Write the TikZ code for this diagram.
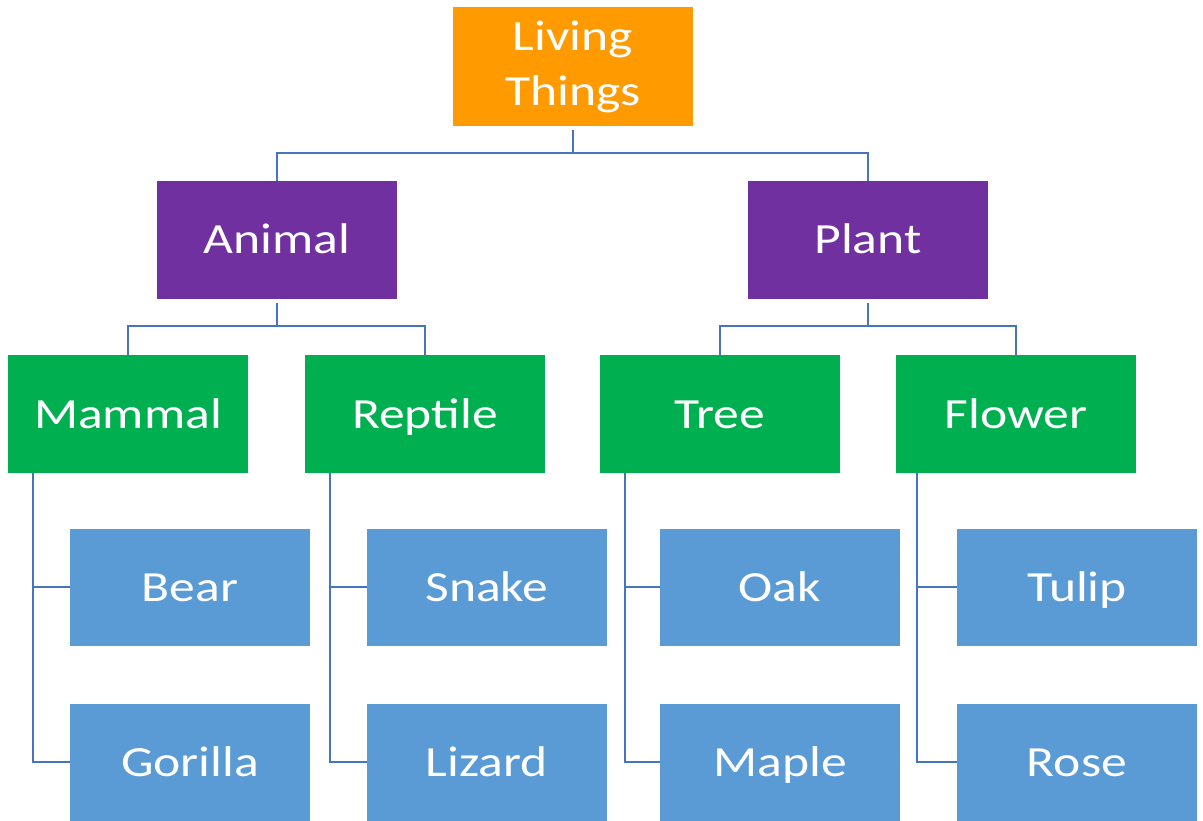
\documentclass[tikz,border=0pt]{standalone}
\usepackage{fontspec}
\setmainfont{Carlito}[FakeStretch=1.2]
\usetikzlibrary{positioning}
\definecolor{rootc}{HTML}{FF9A00}
\definecolor{kingc}{HTML}{7030A0}
\definecolor{groupc}{HTML}{00B050}
\definecolor{leafc}{HTML}{5B9BD5}
\definecolor{linkc}{HTML}{4775BD}
\tikzset{
  box/.style={rectangle, minimum width=240pt, minimum height=118pt, inner sep=0pt,
    text=white, align=center, font=\fontsize{43}{55}\selectfont},
  onerow/.style={box, text height=28pt, text depth=0pt},
  rootbox/.style={box, fill=rootc, minimum height=119pt},
  kingbox/.style={onerow, fill=kingc},
  groupbox/.style={onerow, fill=groupc},
  leafbox/.style={onerow, fill=leafc, minimum height=117pt},
  link/.style={draw=linkc, line width=2.5pt}
}
\begin{document}
\begin{tikzpicture}[x=1pt,y=1pt]
  \fill[white] (0,0) rectangle (1203,-821);
  \useasboundingbox (0,0) rectangle (1203,-821);

  % root
  \node[rootbox] (lt) at (573,-66.5) {Living\\Things};

  % kingdoms
  \node[kingbox] (animal) at (277,-240) {Animal};
  \node[kingbox] (plant)  at (868,-240) {Plant};

  % groups
  \node[groupbox] (mammal)  at (128,-414) {Mammal};
  \node[groupbox] (reptile) at (425,-414) {Reptile};
  \node[groupbox] (tree)    at (720,-414) {Tree};
  \node[groupbox] (flower)  at (1016,-414) {Flower};

  % species
  \node[leafbox] (bear)    at (190,-587) {Bear};
  \node[leafbox] (gorilla) at (190,-762) {Gorilla};
  \node[leafbox] (snake)   at (487,-587) {Snake};
  \node[leafbox] (lizard)  at (487,-762) {Lizard};
  \node[leafbox] (oak)     at (780,-587) {Oak};
  \node[leafbox] (maple)   at (780,-762) {Maple};
  \node[leafbox] (tulip)   at (1077,-587) {Tulip};
  \node[leafbox] (rose)    at (1077,-762) {Rose};

  % tree connectors
  \draw[link] ([yshift=-4pt]lt.south) -- ++(0,-23) -| (animal.north);
  \draw[link] (lt.south) ++(0,-27) -| (plant.north);
  \draw[link] ([yshift=-4pt]animal.south) -- ++(0,-23) -| (mammal.north);
  \draw[link] (animal.south) ++(0,-27) -| (reptile.north);
  \draw[link] ([yshift=-4pt]plant.south) -- ++(0,-23) -| (tree.north);
  \draw[link] (plant.south) ++(0,-27) -| (flower.north);

  % side connectors
  \draw[link] ([xshift=25pt,yshift=-4pt]mammal.south west) |- (gorilla.west);
  \draw[link] ([xshift=25pt]mammal.south west) |- (bear.west);
  \draw[link] ([xshift=25pt,yshift=-4pt]reptile.south west) |- (lizard.west);
  \draw[link] ([xshift=25pt]reptile.south west) |- (snake.west);
  \draw[link] ([xshift=25pt,yshift=-4pt]tree.south west) |- (maple.west);
  \draw[link] ([xshift=25pt]tree.south west) |- (oak.west);
  \draw[link] ([xshift=21pt,yshift=-4pt]flower.south west) |- (rose.west);
  \draw[link] ([xshift=21pt]flower.south west) |- (tulip.west);
\end{tikzpicture}
\end{document}
